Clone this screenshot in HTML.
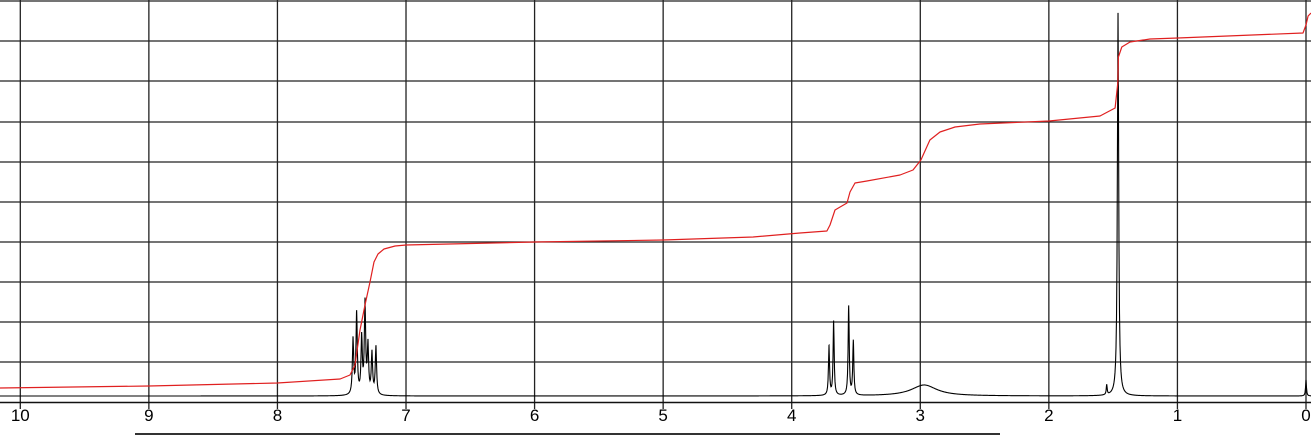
<!DOCTYPE html>
<html><head><meta charset="utf-8"><style>
html,body{margin:0;padding:0;background:#fff;width:1311px;height:439px;overflow:hidden}
svg{display:block}
text{font-family:"Liberation Sans",Arial,sans-serif;font-size:17px;fill:#000}
</style></head><body>
<svg id="chart" width="1311" height="439" viewBox="0 0 1311 439"></svg>
<script>
const tickLabels=[10,9,8,7,6,5,4,3,2,1,0];
const gridRows=[1,41,81,122,162,202,242,282,322,362];
// peaks: chemical shift (ppm), intensity (px above baseline), half-width (ppm)
const peakPpm=[7.412,7.384,7.345,7.319,7.296,7.265,7.234,3.710,3.674,3.557,3.521,2.97,1.55,1.462,0.0];
const peakHeight=[55,81,56,91,48,41,48,49,74,89,54,11,10,383,16];
const peakWidth=[0.006,0.006,0.006,0.006,0.006,0.006,0.006,0.005,0.005,0.005,0.005,0.12,0.004,0.006,0.004];
// integral curve readings (ppm, y)
const integPpm=[10.16,9,8,7.513,7.436,7.397,7.358,7.319,7.280,7.249,7.218,7.171,7.085,7.0,6,5,4.3,3.936,3.726,3.702,3.663,3.624,3.570,3.547,3.508,3.415,3.158,3.057,2.995,2.925,2.847,2.730,2.536,1.999,1.602,1.485,1.464,1.459,1.433,1.369,1.213,0.996,0.023,0.0,-0.016,-0.039];
const integVal=[388,386,383,379,375,365,330,305,282,262,254,249,246,245,242,240,237,233,231,225,210,207,203,192,183,181,175,170,160,140,132,127,124,121,116,108,83,57,47,42,39,38,33,25,16,13];

const svg=document.getElementById('chart');
const NS='http://www.w3.org/2000/svg';
const x=p=>1306-128.57*p;
const baseY=396;
function el(t,a){const e=document.createElementNS(NS,t);for(const k in a)e.setAttribute(k,a[k]);svg.appendChild(e);return e;}
gridRows.forEach(y=>{const l=el('line',{x1:0,x2:1311,y1:y,y2:y,stroke:'#222','stroke-width':1.3});

});
tickLabels.forEach(v=>{const l=el('line',{x1:x(v),x2:x(v),y1:0,y2:409,stroke:'#222','stroke-width':1.3});


const t=el('text',{x:x(v),y:421,'text-anchor':'middle'});t.textContent=v;

});
const ax=el('line',{x1:0,x2:1311,y1:402.5,y2:402.5,stroke:'#111','stroke-width':1.6});


const bl=el('line',{x1:135,x2:1000,y1:434,y2:434,stroke:'#333','stroke-width':2});


// spectrum
const xs=[];for(let px=0;px<=1311;px+=0.5)xs.push(px);
peakPpm.forEach(p=>xs.push(x(p)));
xs.sort((a,b)=>a-b);
let d='';
xs.forEach((px,j)=>{const p=(1306-px)/128.57;let h=0;
for(let i=0;i<peakPpm.length;i++){const dd=(p-peakPpm[i])/peakWidth[i];h+=peakHeight[i]/(1+dd*dd);}
d+=(j?'L':'M')+px.toFixed(2)+' '+(baseY-h).toFixed(2);});
const sp=el('path',{d:d,fill:'none',stroke:'#000','stroke-width':1.1});


// integral
let d2='';integPpm.forEach((p,i)=>{d2+=(i?'L':'M')+x(p).toFixed(1)+' '+integVal[i];});
const ig=el('path',{d:d2,fill:'none',stroke:'#e02020','stroke-width':1.2,'stroke-linejoin':'round'});


</script>
</body></html>
